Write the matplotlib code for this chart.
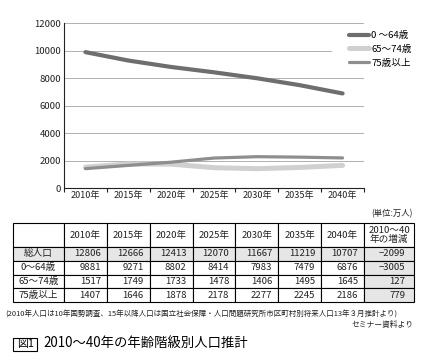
import matplotlib
matplotlib.use('Agg')
import matplotlib.pyplot as plt
from matplotlib.patches import Rectangle
import numpy as np

plt.rcParams['font.family'] = ['Noto Sans CJK JP', 'DejaVu Sans']

# ---------------------- data (万人)
years = ['2010年', '2015年', '2020年', '2025年', '2030年', '2035年', '2040年']
groups = ['0 ～64歳', '65～74歳', '75歳以上']
total = [12806, 12666, 12413, 12070, 11667, 11219, 10707]
age0_64 = [9881, 9271, 8802, 8414, 7983, 7479, 6876]
age65_74 = [1517, 1749, 1733, 1478, 1406, 1495, 1645]
age75 = [1407, 1646, 1878, 2178, 2277, 2245, 2186]
change = [-2099, -3005, 127, 779]
row_labels = ['総人口', '0～64歳', '65～74歳', '75歳以上']

yticks = [0, 2000, 4000, 6000, 8000, 10000, 12000]

colors = ['#6e6e6e', '#d0d0d0', '#8e8e8e']
widths = [3.0, 3.6, 2.3]

W, H = 430, 363
fig = plt.figure(figsize=(W/100, H/100), dpi=100)

# ---------------------- line chart
ax = fig.add_axes([64/W, 1-188/H, 300/W, 165/H])
x = np.arange(len(years))
for vals, lab, c, lw in zip([age0_64, age65_74, age75], groups, colors, widths):
    ax.plot(x, vals, color=c, lw=lw, label=lab,
            solid_capstyle='round', solid_joinstyle='round')

ax.set_xlim(-0.5, len(years)-0.5)
ax.set_ylim(0, 12000)
ax.set_yticks(yticks)
ax.set_xticks(x)
ax.set_xticklabels(years)
ax.set_xticks(np.arange(-0.5, len(years)), minor=True)
ax.tick_params(axis='x', which='major', length=0, pad=2.5, labelsize=6.5, colors='#222222')
ax.tick_params(axis='x', which='minor', length=3, width=0.8, direction='out', color='#222222')
ax.tick_params(axis='y', length=0, pad=2, labelsize=6.9, colors='#222222')
ax.grid(axis='y', color='#b0b0b0', lw=0.7)
ax.set_axisbelow(True)
for s in ['top', 'right']:
    ax.spines[s].set_visible(False)
ax.spines['left'].set_color('#222222')
ax.spines['bottom'].set_color('#222222')
ax.spines['left'].set_linewidth(0.8)
ax.spines['bottom'].set_linewidth(0.8)

# white area behind the legend
fig.patches.append(Rectangle((332/W, 1-70/H), 32/W, 42/H, transform=fig.transFigure,
                             facecolor='white', edgecolor='none', zorder=1))
leg = fig.legend(loc='upper left', bbox_to_anchor=(349/W, 1-31/H), frameon=False,
                 fontsize=6.9, handlelength=2.1, handletextpad=0.2, labelspacing=0.5,
                 borderpad=0, borderaxespad=0)

fig.text(413/W, 1-214/H, '(単位:万人)', fontsize=6.0, ha='right', va='center', color='#222222')

# ---------------------- table
tax = fig.add_axes([13/W, 1-302/H, 401/W, 79/H])
tax.axis('off')

def fmt(v):
    return ('−' + str(-v)) if v < 0 else str(v)

cells = [[''] + years + ['2010～40\n年の増減']]
for lab, vals, ch in zip(row_labels, [total, age0_64, age65_74, age75], change):
    cells.append([lab] + [str(v) for v in vals] + [fmt(ch)])

col_w = [51] + [300/7]*7 + [50]
tbl = tax.table(cellText=cells, colWidths=col_w, bbox=[0, 0, 1, 1], cellLoc='right')
tbl.auto_set_font_size(False)
tbl.set_fontsize(6.9)
ncol = len(col_w)
for (r, c), cell in tbl.get_celld().items():
    cell.set_linewidth(0.8)
    cell.set_edgecolor('black')
    cell.set_height(24 if r == 0 else 13.75)
    cell.get_text().set_color('#222222')
    if r == 0 or c == 0:
        cell._loc = 'center'
        cell.get_text().set_ha('center')
        cell.get_text().set_linespacing(0.95)
    else:
        cell.PAD = 0.18 if c == ncol-1 else 0.14
    if r == 1 or (c == ncol-1 and r > 0):
        cell.set_facecolor('#e6e6e6')

# ---------------------- notes and title
fig.text(5/W, 1-315/H,
         '(2010年人口は10年国勢調査、15年以降人口は国立社会保障・人口問題研究所市区町村別将来人口13年３月推計より)',
         fontsize=5.4, ha='left', va='center', color='#222222')
fig.text(414/W, 1-325/H, 'セミナー資料より', fontsize=5.6, ha='right', va='center', color='#222222')

fig.patches.append(Rectangle((13/W, 1-351/H), 24/W, 13/H, transform=fig.transFigure,
                             facecolor='white', edgecolor='black', lw=0.8))
fig.text(25/W, 1-344.5/H, '図1', fontsize=7.8, ha='center', va='center')
fig.text(43/W, 1-343/H, '2010～40年の年齢階級別人口推計', fontsize=9.6, ha='left', va='center')

fig.savefig('out.png', dpi=100)
